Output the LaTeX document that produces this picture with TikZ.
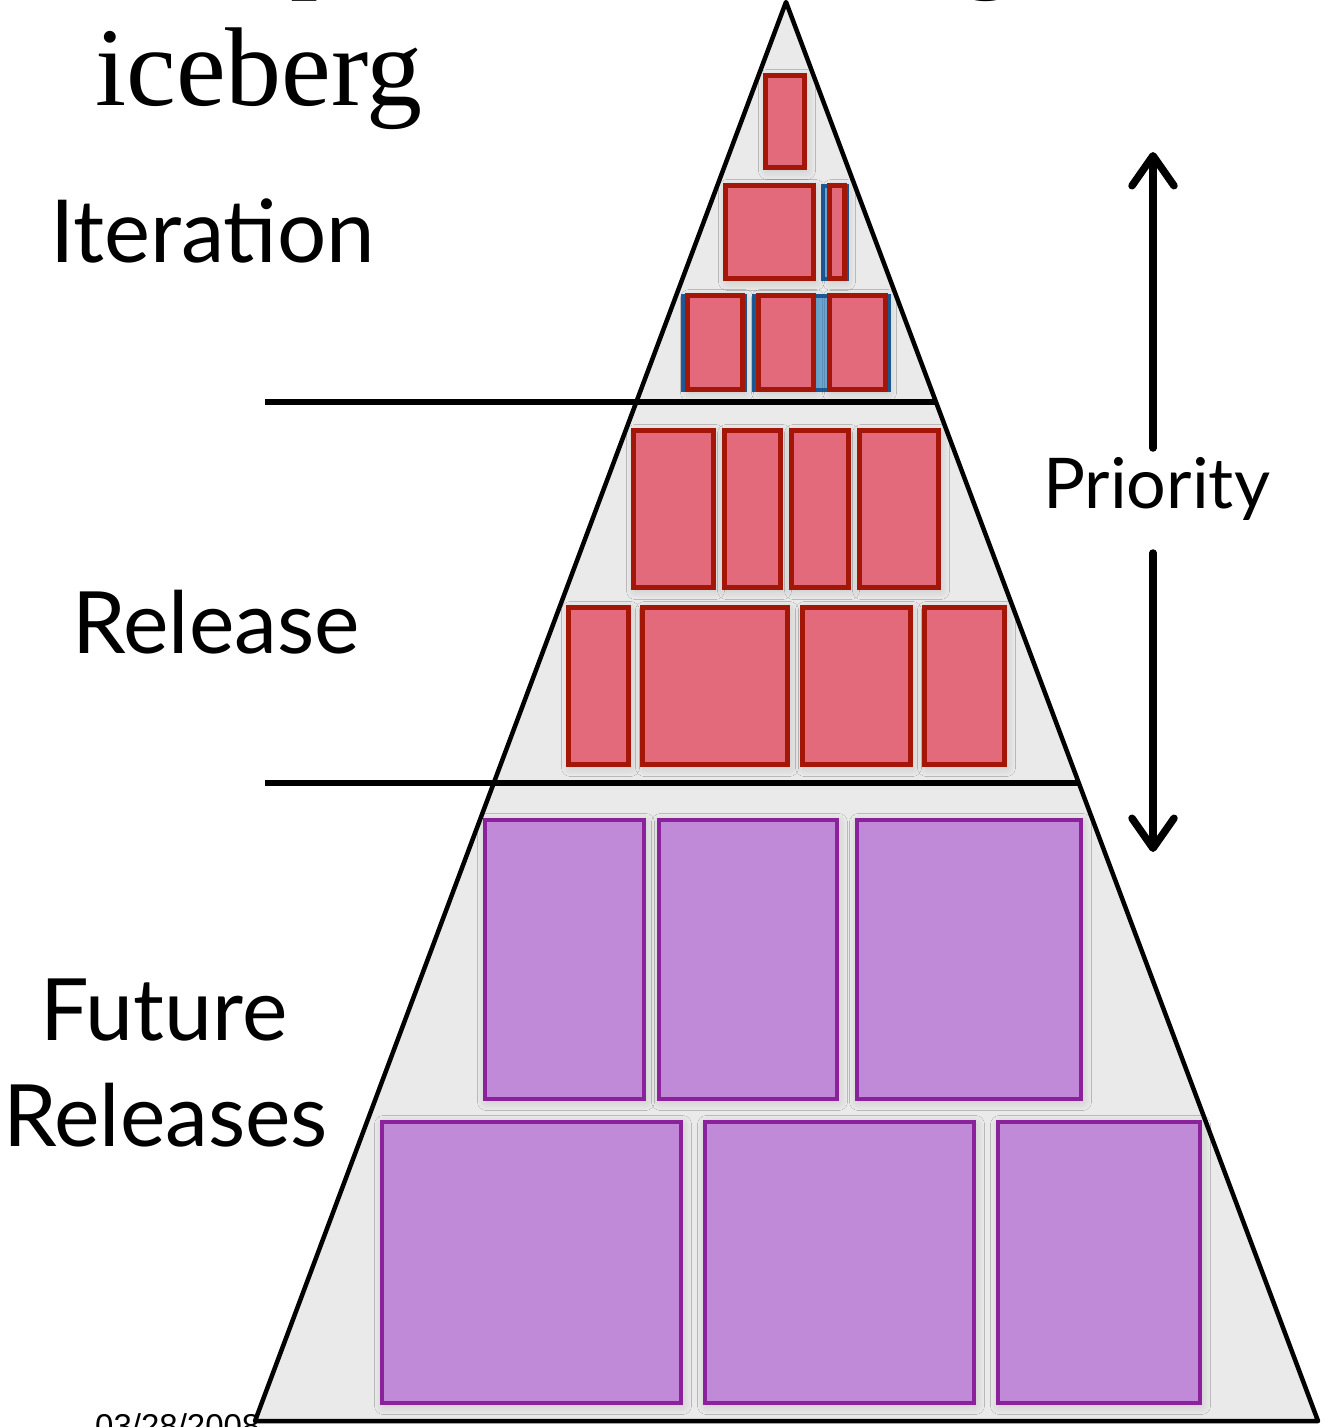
\documentclass[tikz,border=0pt]{standalone}
\usepackage{fontspec}
\setmainfont{Liberation Serif}
\newfontfamily\gill{Lato}
\newfontfamily\helv{Liberation Sans}
\usetikzlibrary{arrows.meta,shadows.blur}
\definecolor{redfill}{HTML}{E26A7B}
\definecolor{redline}{HTML}{A41708}
\definecolor{purfill}{HTML}{C08AD9}
\definecolor{purline}{HTML}{8B229B}
\definecolor{bluefill}{HTML}{6FAAD8}
\definecolor{blueline}{HTML}{1E5C99}
\definecolor{trifill}{HTML}{EAEAEA}
\tikzset{
  boxshadow/.style={blur shadow={shadow xshift=2pt,shadow yshift=-3pt,shadow blur radius=9pt,shadow blur steps=12,shadow opacity=18}},
  redbox/.style={fill=redfill,draw=redline,line width=5pt,boxshadow},
  purbox/.style={fill=purfill,draw=purline,line width=4pt,boxshadow},
  bluebox/.style={fill=bluefill,draw=blueline,line width=4pt},
  divider/.style={line width=5.5pt,black},
  label/.style={font=\gill,anchor=base west,inner sep=0pt},
  prio/.style={line width=7.5pt,line cap=round,-{Straight Barb[length=30pt,width=42pt,line cap=round,line join=round]}},
}
\newcommand{\myrbox}[5]{\path[#1] (#2+2.5,#3+2.5) rectangle (#4-2.5,#5-2.5);}
\begin{document}
\begin{tikzpicture}[x=1pt,y=-1pt]
\clip (0,0) rectangle (1323,1427);
\fill[white] (0,0) rectangle (1323,1427);
% title fragments
\node[font=\fontsize{112}{130}\selectfont,anchor=base west,inner sep=0pt] (title) at (88,-23) {The product backlog};
\node[font=\fontsize{112}{130}\selectfont,anchor=base west,inner sep=0pt] (ice) at (95,105) {iceberg};
\node[font=\helv\fontsize{33}{40}\selectfont,anchor=base west,inner sep=0pt] (date) at (95,1437) {03/28/2008};
% triangle body
\fill[trifill] (786,2) -- (1318,1421) -- (255,1421) -- cycle;
% iteration blue backing boxes
\myrbox{bluebox}{680}{293}{747}{392}
\myrbox{bluebox}{751}{293}{891}{392}
\myrbox{bluebox}{820}{183}{849}{281}
% iteration
\myrbox{redbox}{763}{73}{807}{170}
\myrbox{redbox}{723}{183}{816}{281}
\myrbox{redbox}{827}{183}{847}{281}
\myrbox{redbox}{685}{293}{745}{392}
\myrbox{redbox}{756}{293}{816}{392}
\myrbox{redbox}{827}{293}{888}{392}
% release
\myrbox{redbox}{631}{428}{716}{590}
\myrbox{redbox}{722}{428}{783}{590}
\myrbox{redbox}{789}{428}{851}{590}
\myrbox{redbox}{857}{428}{941}{590}
\myrbox{redbox}{566}{605}{631}{767}
\myrbox{redbox}{640}{605}{790}{767}
\myrbox{redbox}{800}{605}{913}{767}
\myrbox{redbox}{922}{605}{1007}{767}
% future
\myrbox{purbox}{482}{817}{646}{1101}
\myrbox{purbox}{656}{817}{839}{1101}
\myrbox{purbox}{854}{817}{1083}{1101}
\myrbox{purbox}{379}{1119}{683}{1405}
\myrbox{purbox}{702}{1119}{976}{1405}
\myrbox{purbox}{995}{1119}{1202}{1405}
% dividers
\coordinate (d1l) at (265,402); \coordinate (d1r) at (936,402);
\coordinate (d2l) at (265,783); \coordinate (d2r) at (1078,783);
\draw[divider] (d1l) -- (d1r);
\draw[divider] (d2l) -- (d2r);
% triangle outline
\draw[line width=4.5pt,line join=round] (786,2) -- (1318,1421) -- (255,1421) -- cycle;
% labels
\node[label,font=\gill\fontsize{87}{100}\selectfont] (iter) at (50,262) {Iteration};
\node[label,font=\gill\fontsize{86}{100}\selectfont] (rel) at (72,653) {Release};
\node[label,font=\gill\fontsize{86}{100}\selectfont] (fut) at (40,1040) {Future};
\node[label,font=\gill\fontsize{86}{100}\selectfont] (futr) at (3,1146) {Releases};
\node[label,font=\gill\fontsize{70}{80}\selectfont] (pri) at (1043,508) {Priority};
% priority arrows
\coordinate (upstart) at (1153,448); \coordinate (uptip) at (1153,152);
\coordinate (dnstart) at (1153,553); \coordinate (dntip) at (1153,852);
\draw[prio] (upstart) -- (uptip);
\draw[prio] (dnstart) -- (dntip);
\end{tikzpicture}
\end{document}
